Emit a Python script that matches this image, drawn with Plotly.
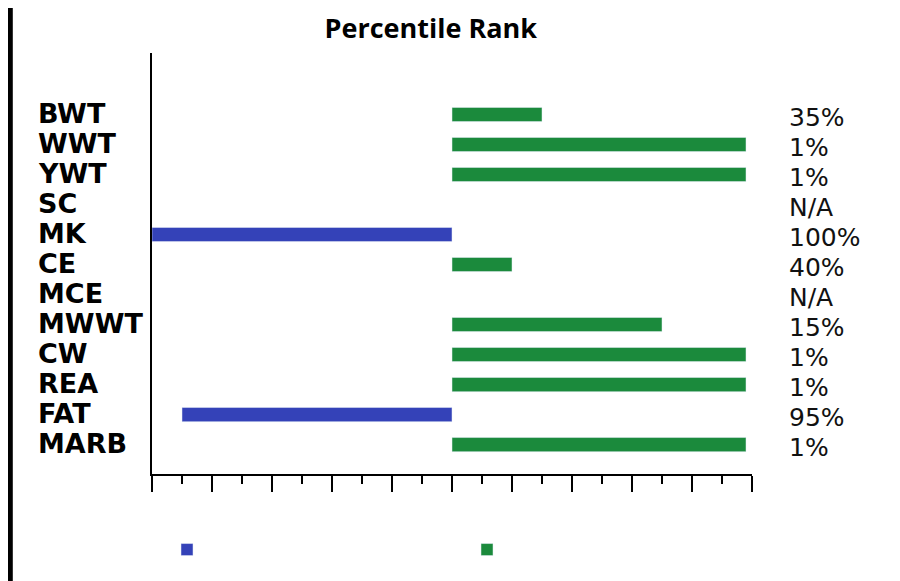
import plotly.graph_objects as go

# traits and percentile ranks (None = N/A)
traits = ["BWT", "WWT", "YWT", "SC", "MK", "CE", "MCE", "MWWT", "CW", "REA", "FAT", "MARB"]
percentile = [35, 1, 1, None, 100, 40, None, 15, 1, 1, 95, 1]
rank_labels = ["35%", "1%", "1%", "N/A", "100%", "40%", "N/A", "15%", "1%", "1%", "95%", "1%"]

BLUE = "#3442b8"
GREEN = "#1b8a3c"

# bars run from the 50th percentile: left (blue) above 50, right (green) below 50
low_side = [(50 - p) if (p is not None and p < 50) else None for p in percentile]
high_side = [(50 - p) if (p is not None and p > 50) else None for p in percentile]

fig = go.Figure()
fig.add_trace(go.Bar(y=traits, x=high_side, orientation="h", name="Below average",
                     marker_color=BLUE, width=0.47, legend="legend"))
fig.add_trace(go.Bar(y=traits, x=low_side, orientation="h", name="Above average",
                     marker_color=GREEN, width=0.47, legend="legend2"))

# category labels on the left, rank text on the right
for i, (t, r) in enumerate(zip(traits, rank_labels)):
    fig.add_annotation(x=-0.193, y=i - 0.02, xref="paper", yref="y", text=t,
                       showarrow=False, xanchor="left", yanchor="middle",
                       font=dict(family="DejaVu Sans", size=27, color="black", weight="bold"))
    fig.add_annotation(x=1.058, y=i + 0.1, xref="paper", yref="y", text=r,
                       showarrow=False, xanchor="left", yanchor="middle",
                       font=dict(family="DejaVu Sans", size=25, color="#111"))

# scanned-page frame edges
fig.add_shape(type="rect", xref="paper", yref="paper", x0=-0.24, x1=-0.232, y0=-0.3, y1=1.2,
              fillcolor="black", line_width=0)
fig.add_shape(type="line", xref="paper", yref="paper", x0=1.2367, x1=1.2367, y0=-0.3, y1=1.2,
              line=dict(color="#777", width=2))

legend_style = dict(orientation="h", xanchor="left", y=-0.145, yanchor="top",
                    font=dict(color="white", size=12), bgcolor="rgba(0,0,0,0)")

fig.update_layout(
    width=892, height=573,
    margin=dict(l=144, r=148, t=45, b=107),
    paper_bgcolor="white", plot_bgcolor="white",
    barmode="overlay",
    title=dict(text="<b>Percentile Rank</b>", x=0.474, xanchor="center",
               y=0.965, yanchor="middle",
               font=dict(family="Open Sans", size=27, color="black")),
    showlegend=True,
    legend=dict(x=0.025, **legend_style),
    legend2=dict(x=0.525, **legend_style),
    xaxis=dict(range=[-50, 50], showgrid=False, zeroline=False, showticklabels=False,
               showline=True, linecolor="black", linewidth=2,
               ticks="outside", tick0=-50, dtick=10, ticklen=16, tickwidth=2, tickcolor="black",
               minor=dict(ticks="outside", dtick=5, ticklen=8, tickwidth=2, tickcolor="black")),
    yaxis=dict(range=[11.98, -2.05], showgrid=False, zeroline=False, showticklabels=False,
               showline=True, linecolor="black", linewidth=2, ticks=""),
)

fig.write_html("out.html")
